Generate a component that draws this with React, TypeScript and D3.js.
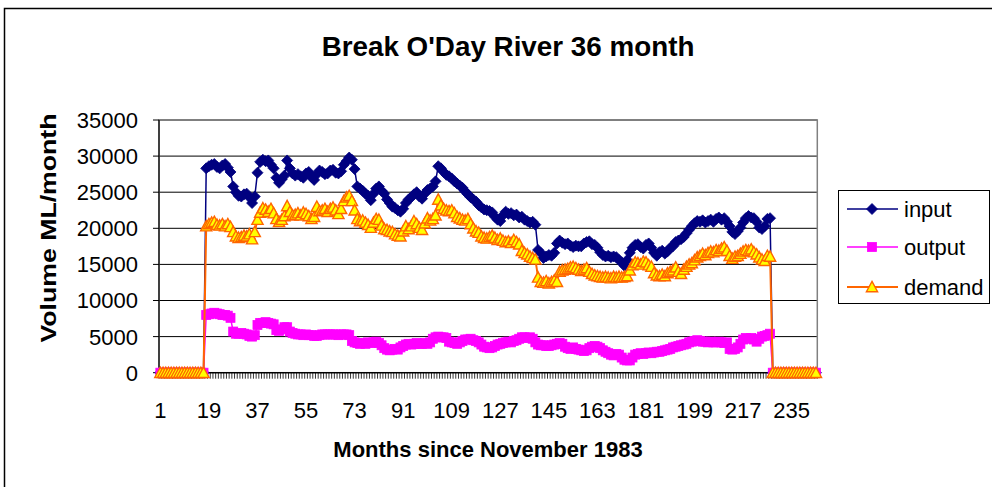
import React from "react";
import * as d3 from "d3";

// Month categories 1..244
const months: number[] = d3.range(1, 245);
const xTickLabels = ["1", "19", "37", "55", "73", "91", "109", "127", "145", "163", "181", "199", "217", "235"];
const yTicks = [0, 5000, 10000, 15000, 20000, 25000, 30000, 35000];

const inputVals = [
  0, 0, 0, 0, 0, 0, 0, 0, 0, 0, 0, 0, 0, 0, 0, 0, 0,
  28300, 28600, 28800, 28900, 28500, 28300, 28700, 28900, 28400, 27800,
  25800, 25000, 24500, 24400, 24700, 24800, 24300, 23500, 24400,
  27700, 29200, 29500, 29300, 29400, 28800, 28300, 27000, 26300, 26800, 27300, 29400, 28300,
  27600, 27300, 27500, 27200, 27000, 27600, 27800, 27100, 26700, 27500, 28000, 27800, 27500, 27600, 28000, 28100, 27700, 27600, 27900, 28800, 29300, 29800, 29500, 28200,
  25800, 25500, 25200, 24800, 24500, 23900, 24800, 25500, 25800, 25200,
  24800, 24000, 23500, 23000, 22800, 22500, 22300, 22700, 23500, 24000, 24300, 24700, 25000, 24400, 24100, 24800, 25300, 25500, 25800, 26500, 28600, 28300, 27800, 27400, 27200, 26900, 26500, 26200, 25900, 25600, 25100, 24700, 24300, 24000, 23700, 23200, 22900, 22600,
  22500, 22400, 22200, 21600, 21200, 21000, 21800, 22300, 22000, 22100, 21800, 21900, 21500, 21600, 21200, 21000, 20800, 20900, 20500, 17000, 16600, 15900, 16100, 16300, 16200, 16600, 17900, 18300, 18000, 17800, 17900, 17600, 17400, 17600, 17500,
  17500, 17900, 18100, 18200, 17800, 17700, 17300, 16700, 16300, 16100, 16200, 16000, 16100, 16000, 15600, 15300, 14800, 15600, 16600, 17300, 17700, 17800, 17400, 17200, 17700, 17900, 17300, 16600, 16200, 16700, 16900, 16500, 16800, 17300, 17500, 18100,
  18300, 18500, 18800, 19300, 19800, 20300, 20700, 21000, 20900, 21100, 20800, 21000, 21200, 20900, 21300, 21500, 21200, 21400, 20900, 20300, 19500, 19200, 19600, 20100, 20800, 21400, 21700, 21500, 21400, 20900, 20100, 19900, 20300, 21300, 21400,
  0, 0, 0, 0, 0, 0, 0, 0, 0, 0, 0, 0, 0, 0, 0, 0, 0,
];

const outputVals = [
  0, 0, 0, 0, 0, 0, 0, 0, 0, 0, 0, 0, 0, 0, 0, 0, 0,
  8000, 8100, 8200, 8300, 8200, 8100, 8000, 8000, 7900, 7600,
  5700, 5400, 5400, 5500, 5400, 5300, 5100, 5000, 5200,
  6600, 6900, 6900, 7000, 6900, 6800, 6700, 5900, 5800, 6000, 6300, 6300, 5700, 5500,
  5400, 5300, 5300, 5200, 5300, 5200, 5200, 5100, 5100, 5200, 5300, 5300, 5300, 5300, 5300, 5300, 5200, 5300, 5300, 5300, 5200, 4400, 4200, 4100, 4000, 4100, 4000, 4200,
  4100, 4200, 4300, 4100, 3800, 3400, 3200, 3100, 3200, 3300, 3200, 3500,
  3700, 3900, 4000, 3900, 4000, 4100, 4000, 4000, 4100, 4000,
  4200, 4700, 4900, 5000, 4900, 4900, 4800, 4300, 4200, 4100,
  4000, 4200, 4400, 4600, 4600, 4700, 4500, 4400, 4200, 3900,
  3600, 3500, 3400, 3500, 3700, 3900, 4000, 4100, 4200, 4300,
  4200, 4400, 4500, 4700, 4900, 4900, 4800, 4900, 4700, 4200,
  3900, 3800, 3800, 3700, 3700, 3800, 3900, 4000, 4100, 4000, 3600, 3400, 3300, 3500, 3300,
  3200, 3100, 3000, 3100, 3400, 3600, 3700, 3600, 3400, 3100, 2900, 2700, 2500, 2400, 2600, 2500, 2100, 1800, 1700, 1700, 2100, 2500, 2600, 2700, 2600, 2700, 2800, 2700, 2800, 2900, 2900, 3000, 3100, 3200, 3300, 3500, 3600,
  3700, 3800, 3900, 4000, 4200, 4300, 4400, 4500, 4400, 4300, 4300, 4200, 4300, 4200, 4200, 4300, 4200, 4100, 4200, 3300, 3200, 3300, 3500, 4000, 4600, 4800, 4700, 4800, 4600, 4300, 4700, 5000, 5100, 5200, 5400,
  0, 0, 0, 0, 0, 0, 0, 0, 0, 0, 0, 0, 0, 0, 0, 0, 0,
];

const demandVals = [
  0, 0, 0, 0, 0, 0, 0, 0, 0, 0, 0, 0, 0, 0, 0, 0, 0,
  20300, 20600, 20800, 20900, 20500, 20400, 20600, 20300, 20600, 20200,
  19500, 18900, 18700, 18800, 19000, 18900, 19200, 18500, 19500,
  21200, 22200, 22800, 22600, 22300, 22700, 22100, 21300, 20900, 21200, 21700, 23100, 22300, 21800,
  21900, 22100, 21800, 22200, 22000, 21700, 21300, 21600, 23000, 22400, 22500, 22700, 22300, 22700, 22900, 22500, 22000, 22700, 23800, 24300, 24500, 23800, 22500, 21300, 21000, 21100, 20800, 20500, 20100, 20800, 21300, 21200, 20400, 19900, 19800, 19600, 19500,
  19200, 19000, 18900, 19600, 20300, 19900, 20300, 21000, 20600, 20100, 19800, 20700, 21400, 21100, 21300, 21800, 24000, 23200, 22700, 22500, 22400, 22500, 22100, 21600, 21400, 21200, 21100, 21300, 20600, 20000, 19600, 19400, 18900, 18700, 18600,
  18800, 19000, 18700, 18400, 18600, 18300, 18100, 18200, 18000, 18400, 18100, 17800, 16900, 16600, 16400, 16100, 15900, 15700, 13200, 12600, 12500, 12700, 12400, 12600, 12800, 12600, 14000, 14200, 14300, 14400, 14600, 14700, 14500, 14300, 14100,
  14300, 14500, 14000, 13700, 13500, 13400, 13300, 13200, 13300, 13200, 13100, 13300, 13200, 13300, 13200, 13300, 13400, 14200, 14900, 15300, 15200, 15000, 15400, 15300, 14900, 14700, 13800, 13500, 13400, 13600, 13400, 13800, 14000, 14200, 14600,
  14000, 13700, 14300, 14700, 15000, 15200, 15600, 16000, 16200, 16500, 16300, 16600, 16800, 16700, 17000, 16900, 17200, 17400, 16900, 16200, 15800, 16100, 16200, 16500, 16800, 17000, 16900, 17100, 16700, 16400, 16000, 15700, 15500, 16200, 16100,
  0, 0, 0, 0, 0, 0, 0, 0, 0, 0, 0, 0, 0, 0, 0, 0, 0,
];

const FONT = "'Liberation Sans', Arial, Helvetica, sans-serif";
const W = 992;
const H = 487;
const plot = { left: 159, right: 817.3, top: 120, bottom: 372.7 };

const x = d3.scaleBand<number>().domain(months).range([plot.left, plot.right]).padding(0);
const y = d3.scaleLinear().domain([0, 35000]).range([plot.bottom, plot.top]);
const cx = (m: number) => (x(m) as number) + x.bandwidth() / 2;

const lineGen = (vals: number[]) =>
  d3.line<number>().x((_, i) => cx(months[i])).y((v) => y(v))(vals) as string;

const diamond = (s: number) => `M0,${-s}L${s},0L0,${s}L${-s},0Z`;
const triangle = (s: number) => `M0,${-s}L${s},${s * 0.85}L${-s},${s * 0.85}Z`;

const NAVY = "#000080";
const MAGENTA = "#FF00FF";
const ORANGE = "#FF6600";
const YELLOW = "#FFFF00";

function Marker({ kind }: { kind: string }) {
  if (kind === "input") return <path d={diamond(5.5)} fill={NAVY} stroke={NAVY} strokeWidth={0.8} />;
  if (kind === "output") return <rect x={-4.5} y={-4.5} width={9} height={9} fill={MAGENTA} stroke={MAGENTA} strokeWidth={0.8} />;
  return <path d={triangle(5.6)} fill={YELLOW} stroke={ORANGE} strokeWidth={1.4} />;
}

const series = [
  { key: "input", vals: inputVals, color: NAVY, width: 1.5 },
  { key: "output", vals: outputVals, color: MAGENTA, width: 1.5 },
  { key: "demand", vals: demandVals, color: ORANGE, width: 2 },
];

export default function App() {
  return (
    <svg width={W} height={H} style={{ position: "absolute", left: 0, top: 0, background: "#fff" }} fontFamily={FONT}>
      <rect x={4.5} y={8.5} width={1000} height={500} fill="#fff" stroke="#000" strokeWidth={1.5} />
      <text x={508} y={56} textAnchor="middle" fontSize={27.8} fontWeight="bold">Break O'Day River 36 month</text>

      {/* gridlines */}
      {yTicks.map((t) => (
        <line key={t} x1={plot.left} x2={plot.right} y1={y(t)} y2={y(t)} stroke="#000" strokeWidth={1} />
      ))}
      {/* plot border */}
      <rect x={plot.left} y={plot.top} width={plot.right - plot.left} height={plot.bottom - plot.top} fill="none" stroke="#808080" strokeWidth={1.5} />

      {/* y axis */}
      <line x1={plot.left} x2={plot.left} y1={plot.top} y2={plot.bottom} stroke="#000" strokeWidth={1.2} />
      {yTicks.map((t) => (
        <g key={"yt" + t}>
          <line x1={plot.left - 6} x2={plot.left} y1={y(t)} y2={y(t)} stroke="#000" strokeWidth={1} />
          <text x={138} y={y(t)} dy="0.36em" textAnchor="end" fontSize={22}>{t}</text>
        </g>
      ))}

      {/* x axis */}
      <line x1={plot.left} x2={plot.right} y1={plot.bottom} y2={plot.bottom} stroke="#000" strokeWidth={1.2} />
      {months.map((m) => (
        <line key={"xt" + m} x1={x(m) as number} x2={x(m) as number} y1={plot.bottom} y2={plot.bottom + 6} stroke="#000" strokeWidth={0.8} />
      ))}
      <line x1={plot.right} x2={plot.right} y1={plot.bottom} y2={plot.bottom + 6} stroke="#000" strokeWidth={0.8} />
      {xTickLabels.map((l) => (
        <text key={"xl" + l} x={cx(+l)} y={418} textAnchor="middle" fontSize={22}>{l}</text>
      ))}

      {/* series */}
      {series.map((s) => (
        <g key={s.key}>
          <path d={lineGen(s.vals)} fill="none" stroke={s.color} strokeWidth={s.width} strokeLinejoin="round" />
          {s.vals.map((v, i) => (
            <g key={i} transform={`translate(${cx(months[i])},${y(v)})`}>
              <Marker kind={s.key} />
            </g>
          ))}
        </g>
      ))}

      {/* axis titles */}
      <text x={488} y={457} textAnchor="middle" fontSize={22} fontWeight="bold">Months since November 1983</text>
      <text transform="translate(56,228) rotate(-90)" textAnchor="middle" fontSize={22} fontWeight="bold" textLength={229} lengthAdjust="spacingAndGlyphs">Volume ML/month</text>

      {/* legend */}
      <rect x={838.5} y={190.5} width={151} height={113} fill="#fff" stroke="#000" strokeWidth={1} />
      {series.map((s, i) => {
        const ly = [209, 247, 287][i];
        return (
          <g key={"lg" + s.key}>
            <line x1={847} x2={898} y1={ly} y2={ly} stroke={s.color} strokeWidth={s.width} />
            <g transform={`translate(872,${ly})`}>
              <Marker kind={s.key} />
            </g>
            <text x={904} y={ly} dy="0.36em" fontSize={22}>{s.key}</text>
          </g>
        );
      })}
    </svg>
  );
}
